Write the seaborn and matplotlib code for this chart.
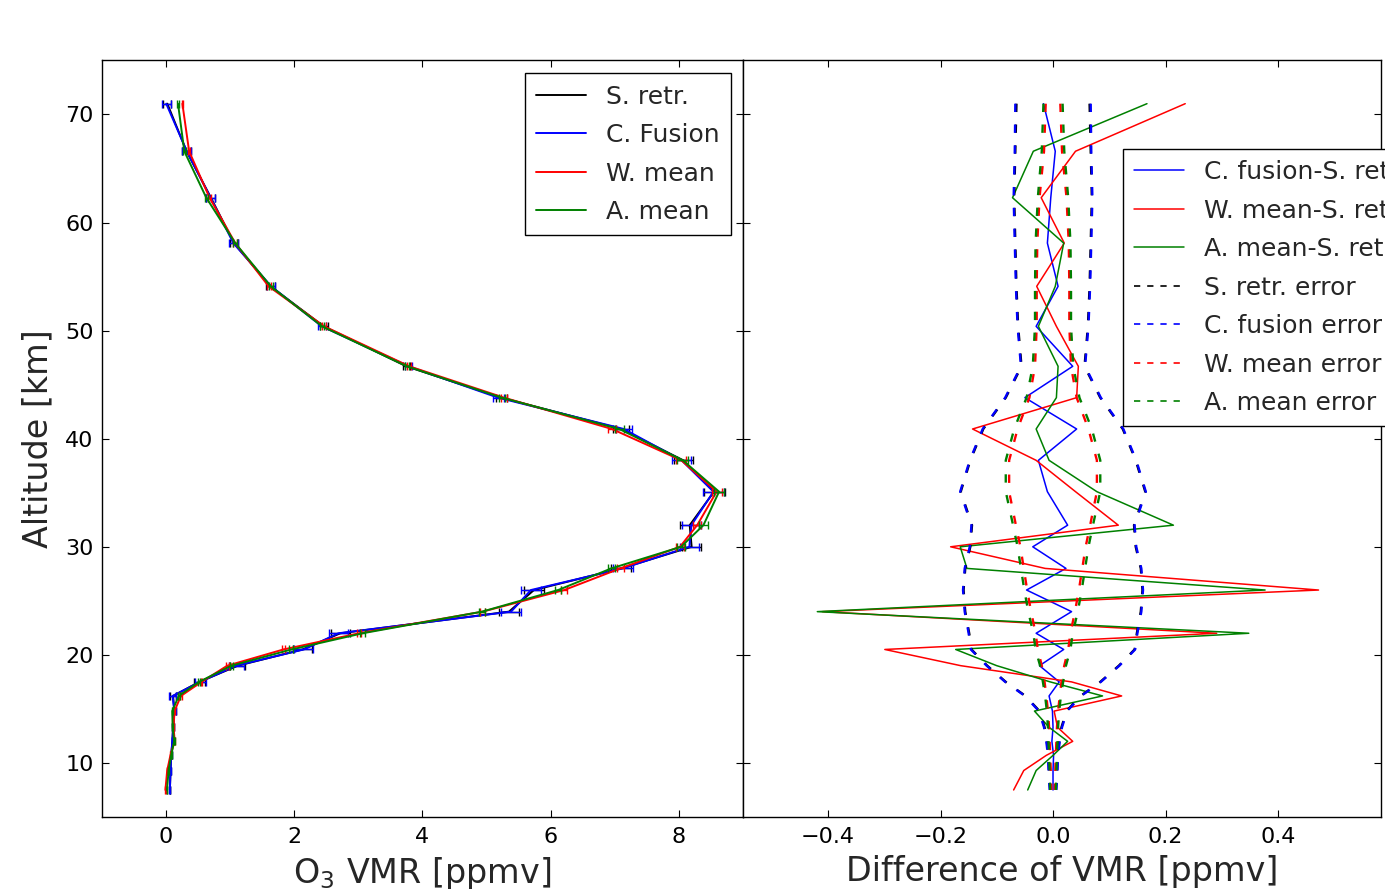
import matplotlib
matplotlib.use("Agg")
import matplotlib.pyplot as plt
import numpy as np
import pandas as pd
import seaborn as sns

# ---------------- data ----------------
altitude = [71.0, 66.6, 62.3, 58.1, 54.1, 50.4, 46.7, 43.8, 40.9, 38.0, 35.1, 32.0, 30.0, 28.0,
            26.0, 24.0, 22.0, 20.5, 19.0, 17.5, 16.2, 14.8, 13.3, 12.0, 10.7, 9.3, 7.5]

s_retr = [0.02, 0.32, 0.70, 1.06, 1.63, 2.46, 3.75, 5.23, 7.10, 8.07, 8.55, 8.17, 8.20, 7.10,
          5.74, 5.35, 2.72, 2.13, 1.12, 0.52, 0.11, 0.13, 0.11, 0.10, 0.08, 0.07, 0.06]

diff_fusion = [-0.017, 0.004, -0.004, -0.010, 0.009, -0.030, 0.035, -0.050, 0.042, -0.026, -0.010,
               0.026, -0.036, 0.023, -0.047, 0.033, -0.030, 0.019, -0.024, 0.011, -0.007, -0.001,
               0.000, -0.002, 0.001, 0.000, 0.000]
diff_wmean = [0.235, 0.040, -0.021, 0.020, -0.029, 0.006, 0.045, 0.042, -0.143, -0.030, 0.040,
              0.116, -0.182, -0.014, 0.472, -0.410, 0.291, -0.299, -0.164, 0.033, 0.122, 0.002,
              0.008, 0.035, -0.012, -0.052, -0.070]
diff_amean = [0.167, -0.035, -0.072, 0.019, 0.004, -0.026, 0.009, 0.006, -0.030, -0.007, 0.078,
              0.214, -0.165, -0.153, 0.377, -0.419, 0.348, -0.173, -0.100, -0.005, 0.088, -0.033,
              -0.007, 0.026, 0.000, -0.030, -0.045]

err_sretr = [0.065, 0.067, 0.069, 0.067, 0.065, 0.062, 0.056, 0.084, 0.124, 0.147, 0.164, 0.144,
             0.147, 0.156, 0.159, 0.156, 0.149, 0.145, 0.117, 0.084, 0.049, 0.024, 0.015, 0.011,
             0.008, 0.007, 0.005]
err_fusion = [0.067, 0.068, 0.070, 0.068, 0.066, 0.063, 0.057, 0.085, 0.125, 0.148, 0.165, 0.145,
              0.148, 0.157, 0.160, 0.157, 0.150, 0.146, 0.118, 0.085, 0.050, 0.025, 0.016, 0.012,
              0.009, 0.008, 0.006]
err_wmean = [0.013, 0.016, 0.024, 0.028, 0.029, 0.029, 0.032, 0.042, 0.063, 0.078, 0.078, 0.066,
             0.058, 0.052, 0.046, 0.039, 0.031, 0.027, 0.020, 0.015, 0.012, 0.009, 0.007, 0.006,
             0.005, 0.004, 0.003]
err_amean = [0.017, 0.020, 0.027, 0.031, 0.032, 0.032, 0.036, 0.047, 0.069, 0.084, 0.084, 0.071,
             0.063, 0.057, 0.051, 0.044, 0.035, 0.031, 0.023, 0.018, 0.014, 0.011, 0.009, 0.008,
             0.007, 0.006, 0.005]

left_labels = ["S. retr.", "C. Fusion", "W. mean", "A. mean"]
diff_labels = ["C. fusion-S. retr.", "W. mean-S. retr.", "A. mean-S. retr."]
err_labels = ["S. retr. error", "C. fusion error", "W. mean error", "A. mean error"]

# ---------------- tables ----------------
alt = np.array(altitude)
s = np.array(s_retr)
profiles = pd.DataFrame({
    "alt": alt,
    "S. retr.": s,
    "C. Fusion": s + np.array(diff_fusion),
    "W. mean": s + np.array(diff_wmean),
    "A. mean": s + np.array(diff_amean),
})
errors = [err_sretr, err_fusion, err_wmean, err_amean]
diffs = [diff_fusion, diff_wmean, diff_amean]

# ---------------- style ----------------
sns.set_theme(style="white")
plt.rcParams.update({
    "font.family": ["DejaVu Sans"],
    "axes.edgecolor": "black",
    "axes.linewidth": 1.0,
    "axes.facecolor": "white",
    "figure.facecolor": "white",
    "xtick.direction": "in",
    "ytick.direction": "in",
    "xtick.top": True,
    "xtick.bottom": True,
    "ytick.left": True,
    "ytick.right": True,
    "xtick.major.size": 5,
    "ytick.major.size": 5,
    "xtick.major.width": 0.8,
    "ytick.major.width": 0.8,
    "xtick.color": "black",
    "ytick.color": "black",
    "xtick.labelsize": 16,
    "ytick.labelsize": 16,
    "xtick.major.pad": 7,
    "ytick.major.pad": 6,
    "axes.labelsize": 24,
    "lines.scale_dashes": False,
    "axes.unicode_minus": True,
})

colors = ["black", "blue", "red", "green"]

fig = plt.figure(figsize=(13.85, 8.89), dpi=100)
ax1 = fig.add_axes([0.0736, 0.081, 0.4628, 0.851])
ax2 = fig.add_axes([0.5365, 0.081, 0.4606, 0.851], sharey=ax1)

# ---------------- left panel ----------------
for name, col, err in zip(left_labels, colors, errors):
    sns.lineplot(data=profiles, x=name, y="alt", orient="y", sort=False, estimator=None,
                 color=col, lw=1.4, label=name, ax=ax1)
    ax1.errorbar(profiles[name], profiles["alt"], xerr=err, fmt="none", ecolor=col,
                 elinewidth=1.0, capsize=3, capthick=1.0)

ax1.set_xlim(-1, 9)
ax1.set_ylim(5, 75)
ax1.set_xticks([0, 2, 4, 6, 8])
ax1.set_yticks([10, 20, 30, 40, 50, 60, 70])
ax1.set_xlabel("O$_3$ VMR [ppmv]", labelpad=6)
ax1.set_ylabel("Altitude [km]", labelpad=8)
leg1 = ax1.legend(loc="upper right", bbox_to_anchor=(0.981, 0.983), borderaxespad=0,
                  fontsize=18, frameon=True, fancybox=False, framealpha=1, edgecolor="black",
                  handlelength=2.0, handletextpad=0.8, borderpad=0.45, labelspacing=0.58)
leg1.get_frame().set_linewidth(1.0)

# ---------------- right panel ----------------
diff_df = pd.DataFrame({"alt": alt})
for lab, d in zip(diff_labels, diffs):
    diff_df[lab] = d
for lab, e in zip(err_labels, errors):
    diff_df[lab] = e
    diff_df[lab + " neg"] = -np.array(e)

for lab, col in zip(diff_labels, colors[1:]):
    sns.lineplot(data=diff_df, x=lab, y="alt", orient="y", sort=False, estimator=None,
                 color=col, lw=1.1, label=lab, ax=ax2)

dash = (0, (6, 9))
for lab, col in zip(err_labels, colors):
    sns.lineplot(data=diff_df, x=lab, y="alt", orient="y", sort=False, estimator=None,
                 color=col, lw=1.7, linestyle=dash, label=lab, ax=ax2)
    sns.lineplot(data=diff_df, x=lab + " neg", y="alt", orient="y", sort=False, estimator=None,
                 color=col, lw=1.7, linestyle=dash, label="_nolegend_", ax=ax2)

ax2.set_xlim(-0.551, 0.583)
ax2.set_xticks([-0.4, -0.2, 0.0, 0.2, 0.4])
ax2.set_xlabel("Difference of VMR [ppmv]", labelpad=6)
ax2.set_ylabel("")
ax2.tick_params(labelleft=False)

handles, labels = ax2.get_legend_handles_labels()
keep = [(h, l) for h, l in zip(handles, labels) if not l.startswith("_")]
leg2 = ax2.legend([h for h, _ in keep], [l for _, l in keep], loc="upper left",
                  bbox_to_anchor=(0.5956, 0.883), borderaxespad=0, fontsize=18, frameon=True,
                  fancybox=False, framealpha=1, edgecolor="black", handlelength=2.0,
                  handletextpad=0.8, borderpad=0.45, labelspacing=0.58)
leg2.get_frame().set_linewidth(1.0)
for line in leg2.get_lines()[3:]:
    line.set_linewidth(1.2)
    line.set_linestyle((0, (4.5, 5)))

fig.savefig("out.png", dpi=100)
